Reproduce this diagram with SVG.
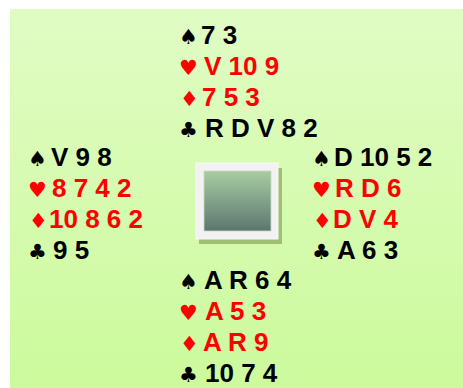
<svg xmlns="http://www.w3.org/2000/svg" width="463" height="388" viewBox="0 0 463 388">
<defs>
<linearGradient id="bg" x1="0" y1="0" x2="0" y2="1">
<stop offset="0" stop-color="#e0fcc4"/>
<stop offset="1" stop-color="#ccfa9c"/>
</linearGradient>
<linearGradient id="pic" x1="0" y1="0" x2="0" y2="1">
<stop offset="0" stop-color="#a8cda2"/>
<stop offset="1" stop-color="#5c7670"/>
</linearGradient>
<style>
.t{font-family:"Liberation Sans",Arial,sans-serif;font-weight:bold;font-size:26px}
.s{font-family:"DejaVu Sans",sans-serif;font-size:21px}
.b{fill:#000}
.r{fill:#ff0000}
</style>
</defs>
<rect x="10" y="9" width="453" height="379" fill="url(#bg)"/>
<g id="north">
<text class="s b" x="179" y="44">♠</text><text class="t b" x="201" y="44">7 3</text>
<text class="s r" x="179" y="75">♥</text><text class="t r" x="204" y="75">V 10 9</text>
<text class="s r" x="180" y="106">♦</text><text class="t r" x="202" y="106">7 5 3</text>
<text class="s b" x="179" y="137">♣</text><text class="t b" x="205" y="137">R D V 8 2</text>
</g>
<g id="west">
<text class="s b" x="28" y="166">♠</text><text class="t b" x="51" y="166">V 9 8</text>
<text class="s r" x="28" y="197">♥</text><text class="t r" x="52" y="197">8 7 4 2</text>
<text class="s r" x="29" y="228">♦</text><text class="t r" x="49" y="228">10 8 6 2</text>
<text class="s b" x="28" y="259">♣</text><text class="t b" x="53" y="259">9 5</text>
</g>
<g id="east">
<text class="s b" x="312" y="166">♠</text><text class="t b" x="334" y="166">D 10 5 2</text>
<text class="s r" x="312" y="197">♥</text><text class="t r" x="335" y="197">R D 6</text>
<text class="s r" x="313" y="228">♦</text><text class="t r" x="333" y="228">D V 4</text>
<text class="s b" x="312" y="259">♣</text><text class="t b" x="337" y="259">A 6 3</text>
</g>
<g id="south">
<text class="s b" x="179" y="289">♠</text><text class="t b" x="204" y="289">A R 6 4</text>
<text class="s r" x="179" y="320">♥</text><text class="t r" x="205" y="320">A 5 3</text>
<text class="s r" x="180" y="351">♦</text><text class="t r" x="203" y="351">A R 9</text>
<text class="s b" x="179" y="382">♣</text><text class="t b" x="205" y="382">10 7 4</text>
</g>
<g id="table">
<rect x="199" y="168" width="83" height="76" fill="#9fbf72"/>
<rect x="196" y="163" width="82" height="76" fill="#f2f2f2" stroke="#f8f8f8" stroke-width="1"/>
<rect x="204" y="171" width="67" height="60" fill="url(#pic)" stroke="#c8dcc4" stroke-width="0.8"/>
</g>
<g id="connectors"/>
</svg>
